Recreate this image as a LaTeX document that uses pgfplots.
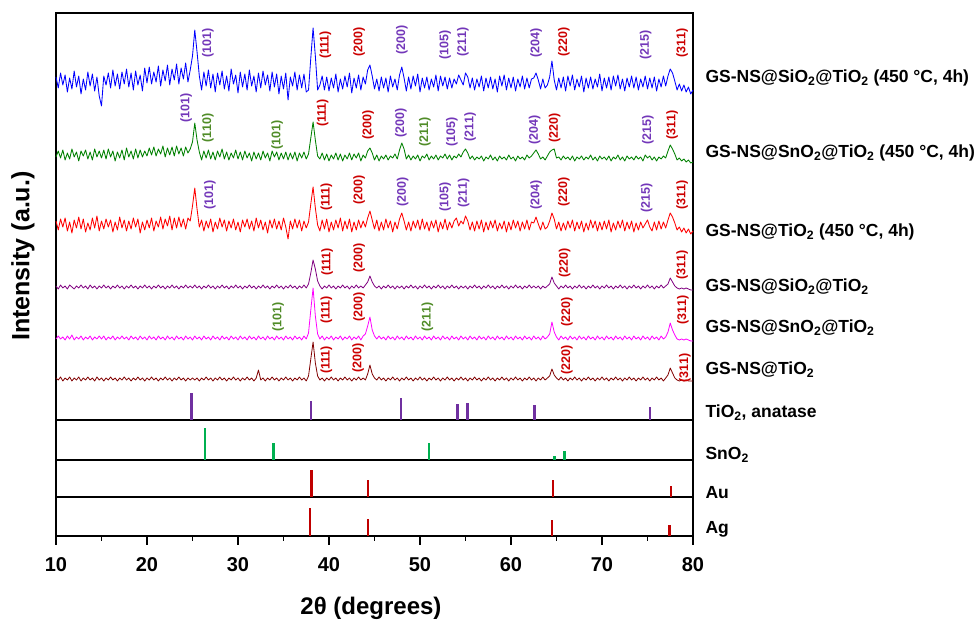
\documentclass[border=0pt]{standalone}
\usepackage{fontspec}
\setmainfont{Liberation Sans}
\usepackage{pgfplots}
\pgfplotsset{compat=1.18}
\usepackage{pgfplotstable}

\definecolor{tblue}{RGB}{0,0,255}
\definecolor{tgreen}{RGB}{0,128,0}
\definecolor{tred}{RGB}{255,0,0}
\definecolor{tpurple}{RGB}{128,0,128}
\definecolor{tmagenta}{RGB}{255,0,255}
\definecolor{tbrown}{RGB}{128,0,0}
\definecolor{lpurple}{RGB}{115,55,185}
\definecolor{lred}{RGB}{204,0,0}
\definecolor{lgreen}{RGB}{80,140,40}
\definecolor{spurple}{RGB}{112,48,160}
\definecolor{sgreen}{RGB}{0,176,80}
\definecolor{sred}{RGB}{192,0,0}

\newcommand{\hklfont}{\bfseries\fontsize{12.5}{14}\selectfont}
\newcommand{\rlab}{\bfseries\fontsize{17.5}{20}\selectfont}

% offsets (px) of each trace from its own baseline
\pgfplotstableread{
x B G R P M N
10.00 5 -2 4 1 -1 1
10.25 -6 4 -5 -2 2 -1
10.50 9 -3 6 2 -1 2
10.75 -3 5 -2 -1 1 -2
11.00 7 -5 7 1 -2 1
11.25 -10 2 -6 -2 2 -1
11.50 4 -4 3 2 -1 2
11.75 -7 6 -8 0 3 -2
12.00 11 -2 5 -2 -2 1
12.25 -5 3 -3 1 1 -1
12.50 6 -6 8 -1 -1 2
12.75 -12 4 -4 2 2 -2
13.00 3 -1 6 -1 -2 1
13.25 -8 5 -7 1 1 -1
13.50 10 -4 2 -2 -1 2
13.75 -4 3 -5 2 2 -1
14.00 8 -5 7 -1 -2 1
14.25 -9 6 -3 1 1 -2
14.50 5 -2 9 -2 -1 2
14.75 -14 4 -6 1 2 -1
15.00 -24 -3 4 -1 -1 1
15.25 6 5 -4 2 2 -2
15.50 -3 -4 6 -1 -2 1
15.75 9 6 -2 1 1 -1
16.00 -6 -2 5 -2 -1 2
16.25 12 4 -7 1 2 -1
16.50 -4 -6 3 -1 -2 1
16.75 8 3 -5 2 1 -2
17.00 -7 -3 8 -1 -1 1
17.25 10 5 -3 1 2 -1
17.50 -2 -5 5 -2 -1 2
17.75 13 7 -6 1 1 -1
18.00 -5 -2 4 -1 -2 1
18.25 9 4 -4 2 2 -2
18.50 -8 -4 7 -1 -1 1
18.75 11 6 -2 1 1 -1
19.00 -3 -3 6 -2 -2 2
19.25 7 5 -8 1 2 -1
19.50 -9 -2 3 -1 -1 1
19.75 14 4 -5 2 1 -2
20.00 -1 -1 5 -1 -2 1
20.25 15 7 -3 1 2 -1
20.50 -2 0 7 -2 -1 2
20.75 10 8 -6 1 1 -1
21.00 0 -1 4 -1 -2 1
21.25 16 6 -2 2 2 -2
21.50 -4 1 8 -1 -1 1
21.75 12 9 -4 1 1 -1
22.00 1 -2 6 -2 -2 2
22.25 17 7 -1 1 2 -1
22.50 -3 0 9 -1 -1 1
22.75 13 8 -5 2 1 -2
23.00 2 -1 7 -1 -2 1
23.25 18 9 -3 1 2 -1
23.50 -2 1 8 -2 -1 2
23.75 14 7 -2 1 1 -1
24.00 3 -1 6 -1 -2 1
24.25 19 8 -4 2 2 -2
24.50 0 2 7 -1 -1 1
24.75 12 6 4 1 1 -1
25.00 26 13 19 -1 -2 1
25.25 52 32 37 2 2 -1
25.50 30 15 16 -1 -1 1
25.75 6 3 -2 1 1 -2
26.00 -8 -5 5 -2 -2 1
26.25 10 4 -6 1 2 -1
26.50 -4 -3 4 -1 -1 2
26.75 12 5 -3 2 1 -1
27.00 -6 -4 6 -1 -2 1
27.25 8 3 -7 1 2 -2
27.50 -10 -5 3 -2 -1 1
27.75 9 4 -4 1 1 -1
28.00 -3 -2 7 -1 -2 2
28.25 11 6 -2 2 2 -1
28.50 -7 -4 5 -1 -1 1
28.75 6 3 -6 1 1 -2
29.00 -9 -5 4 -2 -2 1
29.25 13 2 -3 1 2 -1
29.50 -2 -3 6 -1 -1 2
29.75 7 5 -5 2 1 -1
30.00 -11 -4 3 -1 -2 1
30.25 10 3 -7 1 2 -2
30.50 -5 -5 5 -2 -1 1
30.75 8 4 -2 1 1 -1
31.00 -8 -3 6 -1 -2 2
31.25 12 2 -4 2 2 -1
31.50 -4 -6 4 -1 -1 1
31.75 6 3 -6 1 1 -2
32.00 -10 -4 7 -2 -2 1
32.25 9 2 -3 1 2 9
32.50 -6 -5 5 -1 -1 -1
32.75 11 4 -5 2 1 1
33.00 -3 -3 3 -1 -2 -2
33.25 7 2 -8 1 2 1
33.50 -9 -6 5 -2 -1 -1
33.75 10 4 -3 1 1 2
34.00 -5 -2 6 -1 -2 -1
34.25 8 3 -4 2 2 1
34.50 -12 -5 4 -1 -1 -2
34.75 6 2 -5 1 1 1
35.00 -7 -4 7 -2 -2 -1
35.25 9 3 -2 1 2 2
35.50 -18 -5 -14 -1 -1 -1
35.75 5 2 4 2 1 1
36.00 -4 -4 -4 -1 -2 -2
36.25 10 3 6 1 2 1
36.50 -8 -6 -3 -2 -1 -1
36.75 7 2 5 1 1 2
37.00 -6 -3 -6 -1 -2 -1
37.25 8 3 4 2 2 1
37.50 -10 -4 -3 -1 -1 -2
37.75 -8 1 3 3 5 3
38.00 24 17 21 14 28 20
38.25 54 33 38 27 50 37
38.50 26 15 17 18 22 16
38.75 -8 -1 0 6 4 3
39.00 -3 -4 -6 1 -1 -1
39.25 6 2 5 -2 2 1
39.50 -8 -5 -4 1 -2 -2
39.75 5 1 6 -1 1 1
40.00 -9 -6 -7 2 -1 -1
40.25 4 0 3 -1 2 2
40.50 -6 -4 -5 1 -2 -1
40.75 8 2 5 -2 1 1
41.00 -10 -5 -3 1 -1 -2
41.25 3 1 7 -1 2 1
41.50 -7 -6 -6 2 -2 -1
41.75 6 0 4 -1 1 2
42.00 -5 -4 -4 1 -1 -1
42.25 9 2 6 -2 2 1
42.50 -11 -5 -7 1 -2 -2
42.75 4 1 3 -1 1 1
43.00 -6 -3 -5 2 -1 -1
43.25 7 2 5 -1 2 2
43.50 -8 -6 -3 1 -2 -1
43.75 5 0 4 -1 2 1
44.00 -2 -3 -2 2 4 -1
44.25 12 4 7 5 12 5
44.50 17 7 14 11 21 14
44.75 6 2 5 5 8 5
45.00 -7 -5 -4 1 2 1
45.25 3 0 5 -1 -1 -1
45.50 -9 -6 -6 1 2 2
45.75 5 -1 3 -2 -1 -1
46.00 -6 -4 -5 1 1 1
46.25 4 0 6 -1 -2 -2
46.50 -10 -5 -3 2 2 1
46.75 6 -1 4 -1 -1 -1
47.00 -5 -3 -7 1 1 2
47.25 3 1 3 -2 -2 -1
47.50 -8 -4 -4 1 2 1
47.75 7 5 6 -1 -1 -2
48.00 15 12 12 1 1 1
48.25 4 6 4 -2 -2 -1
48.50 -9 -4 -5 1 2 2
48.75 5 0 3 -1 -1 -1
49.00 -7 -5 -6 2 1 1
49.25 6 -1 4 -1 -2 -2
49.50 -4 -4 -3 1 2 1
49.75 8 0 5 -2 -1 -1
50.00 -10 -6 -5 1 1 2
50.25 4 -1 6 -1 -2 -1
50.50 -6 -3 -4 2 2 1
50.75 5 1 3 -1 -1 -2
51.00 -8 -5 -6 1 1 1
51.25 3 -1 4 -2 -2 -1
51.50 -5 -4 -3 1 2 2
51.75 7 0 5 -1 -1 -1
52.00 -9 -5 -7 2 1 1
52.25 6 -1 3 -1 -2 -2
52.50 -4 -3 -4 1 2 1
52.75 5 1 6 -2 -1 -1
53.00 -7 -4 -5 1 1 2
53.25 4 0 3 -1 -2 -1
53.50 -6 -5 -3 2 2 1
53.75 3 -1 4 -1 -1 -2
54.00 -2 -3 7 1 1 1
54.25 7 1 -1 -2 -2 -1
54.50 2 -2 4 1 2 2
54.75 -3 3 1 -1 -1 -1
55.00 9 6 9 1 1 1
55.25 5 2 4 -2 -2 -2
55.50 -6 -4 -5 1 2 1
55.75 4 -1 3 -1 -1 -1
56.00 -8 -5 -6 2 1 2
56.25 3 -2 4 -1 -2 -1
56.50 -5 -4 -4 1 2 1
56.75 6 -1 5 -2 -1 -2
57.00 -9 -6 -7 1 1 1
57.25 4 -2 3 -1 -2 -1
57.50 -6 -4 -5 2 2 2
57.75 5 0 4 -1 -1 -1
58.00 -7 -5 -3 1 1 1
58.25 3 -2 5 -2 -2 -2
58.50 -10 -6 -6 1 2 1
58.75 6 -1 2 -1 -1 -1
59.00 -4 -4 -4 2 1 2
59.25 7 -2 4 -1 -2 -1
59.50 -8 -5 -7 1 2 1
59.75 4 0 3 -2 -1 -2
60.00 -6 -4 -5 1 1 1
60.25 5 -2 5 -1 -2 -1
60.50 -9 -6 -3 2 2 2
60.75 3 -1 4 -1 -1 -1
61.00 -5 -4 -6 1 1 1
61.25 6 -2 3 -2 -2 -2
61.50 -7 -5 -4 1 2 1
61.75 4 0 5 -1 -1 -1
62.00 -6 -3 -5 2 1 2
62.25 3 -1 3 -1 -2 -1
62.50 4 2 2 1 2 1
62.75 9 5 8 -1 -1 -2
63.00 2 1 1 1 1 1
63.25 -7 -4 -5 -2 -2 -1
63.50 3 -2 3 1 2 2
63.75 -6 -5 -4 -1 -1 -1
64.00 -3 -1 -2 1 1 1
64.25 5 3 4 3 4 3
64.50 21 5 12 10 16 10
64.75 2 6 6 4 6 4
65.00 -8 -3 -4 1 1 1
65.25 4 -2 3 -2 -2 -1
65.50 -6 -5 -6 1 2 2
65.75 5 -1 2 -1 -1 -1
66.00 -9 -4 -5 2 1 1
66.25 6 -2 4 -1 -2 -2
66.50 -4 -5 -3 1 2 1
66.75 7 -1 5 -2 -1 -1
67.00 -8 -6 -6 1 1 2
67.25 3 -2 3 -1 -2 -1
67.50 -5 -4 -4 2 2 1
67.75 6 -1 4 -1 -1 -2
68.00 -10 -5 -7 1 1 1
68.25 4 -2 2 -2 -2 -1
68.50 -6 -4 -5 1 2 2
68.75 5 0 5 -1 -1 -1
69.00 -7 -5 -3 2 1 1
69.25 3 -2 4 -1 -2 -2
69.50 -5 -6 -6 1 2 1
69.75 8 -1 3 -2 -1 -1
70.00 -9 -4 -5 1 1 2
70.25 4 -2 4 -1 -2 -1
70.50 -6 -5 -4 2 2 1
70.75 5 -1 5 -1 -1 -2
71.00 -8 -6 -7 1 1 1
71.25 6 -2 2 -2 -2 -1
71.50 -4 -4 -5 1 2 2
71.75 7 0 4 -1 -1 -1
72.00 -7 -5 -3 2 1 1
72.25 3 -2 5 -1 -2 -2
72.50 -9 -6 -6 1 2 1
72.75 4 -1 3 -2 -1 -1
73.00 -5 -4 -4 1 1 2
73.25 6 -2 4 -1 -2 -1
73.50 -6 -5 -7 2 2 1
73.75 5 -1 2 -1 -1 -2
74.00 -8 -4 -5 1 1 1
74.25 3 -2 3 -2 -2 -1
74.50 -5 -6 -3 1 2 2
74.75 6 0 1 -1 -1 -1
75.00 -7 -3 5 2 1 1
75.25 4 -1 -2 -1 -2 -2
75.50 -6 -5 -6 1 2 1
75.75 5 -2 3 -2 -1 -1
76.00 -9 -6 -5 1 1 2
76.25 3 -2 4 -1 -2 -1
76.50 -5 -4 -4 2 2 1
76.75 6 -1 3 -1 -1 -2
77.00 -4 -3 -3 1 1 1
77.25 6 4 5 3 6 4
77.50 13 10 12 9 15 11
77.75 9 6 8 5 8 6
78.00 1 1 2 1 3 1
78.25 -8 -5 -5 -1 -1 -1
78.50 -2 -3 -2 -2 -2 -2
78.75 -9 -6 -7 -1 -1 -1
79.00 -3 -4 -3 -2 -2 -2
79.25 -10 -7 -8 -1 -1 -1
79.50 -5 -5 -4 -2 -2 -2
79.75 -12 -8 -9 -3 -3 -2
80.00 -8 -7 -6 -3 -3 -2
}\xrd

\begin{document}
\begin{tikzpicture}[x=1pt,y=1pt]
\path[use as bounding box] (-56,-84) rectangle (920,536);
\begin{axis}[
  at={(0pt,0pt)}, anchor=south west,
  scale only axis, width=637pt, height=523pt,
  xmin=10, xmax=80, ymin=0, ymax=523,
  clip=false,
  axis line style={line width=1.2pt},
  xtick={10,20,...,80}, minor xtick={15,25,...,75},
  tick align=outside, xtick pos=bottom, ytick=\empty,
  major tick length=9pt, minor tick length=5pt,
  tick style={black, line width=1.3pt},
  /pgf/number format/assume math mode=true,
  xticklabel style={font=\bfseries\fontsize{20}{24}\selectfont, anchor=center, yshift=-20pt},
  xlabel={2θ (degrees)},
  ylabel={Intensity (a.u.)},
  xlabel style={font=\bfseries\fontsize{24}{28}\selectfont, at={(axis description cs:0.4945,-0.138)}, anchor=center},
  ylabel style={font=\bfseries\fontsize{25}{30}\selectfont, at={(axis description cs:-0.052,0.535)}, anchor=center},
]
% traces
\addplot[tblue, line width=0.85pt, line join=round] table[x=x, y expr=\thisrow{B}+454] {\xrd};
\addplot[tgreen, line width=0.85pt, line join=round] table[x=x, y expr=\thisrow{G}+381] {\xrd};
\addplot[tred, line width=0.85pt, line join=round] table[x=x, y expr=\thisrow{R}+311] {\xrd};
\addplot[tpurple, line width=0.8pt, line join=round] table[x=x, y expr=\thisrow{P}+249] {\xrd};
\addplot[tmagenta, line width=0.8pt, line join=round] table[x=x, y expr=\thisrow{M}+198] {\xrd};
\addplot[tbrown, line width=0.8pt, line join=round] table[x=x, y expr=\thisrow{N}+157] {\xrd};

% reference panels: separators
\addplot[black, line width=2.5pt] coordinates {(10,116) (80,116)};
\addplot[black, line width=2.5pt] coordinates {(10,76) (80,76)};
\addplot[black, line width=2.5pt] coordinates {(10,39) (80,39)};
\addplot[black, line width=2pt] coordinates {(10,0) (80,0)};

% reference sticks
\addplot[ycomb, draw=spurple, line width=2.5pt, yshift=116pt] coordinates {(24.9,27) (38.0,19) (47.9,22) (54.1,16) (55.2,17) (62.6,15) (75.3,13)};
\addplot[ycomb, draw=sgreen, line width=2.5pt, yshift=76pt] coordinates {(26.4,32) (33.9,17) (51.0,17) (64.8,4) (65.9,9)};
\addplot[ycomb, draw=sred, line width=2.5pt, yshift=39pt] coordinates {(38.1,27) (44.3,17) (64.6,17) (77.6,11)};
\addplot[ycomb, draw=sred, line width=2.5pt] coordinates {(37.9,28) (44.3,17) (64.5,16) (77.4,11)};

% hkl labels, blue row
\node[rotate=90, text=lpurple, font=\hklfont] at (axis cs:26.7,493) {(101)};
\node[rotate=90, text=lred, font=\hklfont] at (axis cs:39.6,491) {(111)};
\node[rotate=90, text=lred, font=\hklfont] at (axis cs:43.3,494) {(200)};
\node[rotate=90, text=lpurple, font=\hklfont] at (axis cs:48.0,496) {(200)};
\node[rotate=90, text=lpurple, font=\hklfont] at (axis cs:52.75,491) {(105)};
\node[rotate=90, text=lpurple, font=\hklfont] at (axis cs:54.7,494) {(211)};
\node[rotate=90, text=lpurple, font=\hklfont] at (axis cs:62.75,493) {(204)};
\node[rotate=90, text=lred, font=\hklfont] at (axis cs:65.8,494) {(220)};
\node[rotate=90, text=lpurple, font=\hklfont] at (axis cs:74.8,491) {(215)};
\node[rotate=90, text=lred, font=\hklfont] at (axis cs:78.8,493) {(311)};
% green row
\node[rotate=90, text=lpurple, font=\hklfont] at (axis cs:24.3,428) {(101)};
\node[rotate=90, text=lgreen, font=\hklfont] at (axis cs:26.7,408) {(110)};
\node[rotate=90, text=lgreen, font=\hklfont] at (axis cs:34.3,401) {(101)};
\node[rotate=90, text=lred, font=\hklfont] at (axis cs:39.3,423) {(111)};
\node[rotate=90, text=lred, font=\hklfont] at (axis cs:44.3,411) {(200)};
\node[rotate=90, text=lpurple, font=\hklfont] at (axis cs:47.9,413) {(200)};
\node[rotate=90, text=lgreen, font=\hklfont] at (axis cs:50.55,404) {(211)};
\node[rotate=90, text=lpurple, font=\hklfont] at (axis cs:53.5,404) {(105)};
\node[rotate=90, text=lpurple, font=\hklfont] at (axis cs:55.5,409) {(211)};
\node[rotate=90, text=lpurple, font=\hklfont] at (axis cs:62.6,406) {(204)};
\node[rotate=90, text=lred, font=\hklfont] at (axis cs:64.8,408) {(220)};
\node[rotate=90, text=lpurple, font=\hklfont] at (axis cs:75.05,406) {(215)};
\node[rotate=90, text=lred, font=\hklfont] at (axis cs:77.7,411) {(311)};
% red row
\node[rotate=90, text=lpurple, font=\hklfont] at (axis cs:26.9,341) {(101)};
\node[rotate=90, text=lred, font=\hklfont] at (axis cs:39.7,339) {(111)};
\node[rotate=90, text=lred, font=\hklfont] at (axis cs:43.3,346) {(200)};
\node[rotate=90, text=lpurple, font=\hklfont] at (axis cs:48.1,344) {(200)};
\node[rotate=90, text=lpurple, font=\hklfont] at (axis cs:52.75,339) {(105)};
\node[rotate=90, text=lpurple, font=\hklfont] at (axis cs:54.8,343) {(211)};
\node[rotate=90, text=lpurple, font=\hklfont] at (axis cs:62.75,341) {(204)};
\node[rotate=90, text=lred, font=\hklfont] at (axis cs:65.8,344) {(220)};
\node[rotate=90, text=lpurple, font=\hklfont] at (axis cs:74.9,338) {(215)};
\node[rotate=90, text=lred, font=\hklfont] at (axis cs:78.8,341) {(311)};
% purple row
\node[rotate=90, text=lred, font=\hklfont] at (axis cs:39.8,274) {(111)};
\node[rotate=90, text=lred, font=\hklfont] at (axis cs:43.3,278) {(200)};
\node[rotate=90, text=lred, font=\hklfont] at (axis cs:65.9,273) {(220)};
\node[rotate=90, text=lred, font=\hklfont] at (axis cs:78.8,271) {(311)};
% magenta row
\node[rotate=90, text=lgreen, font=\hklfont] at (axis cs:34.4,219) {(101)};
\node[rotate=90, text=lred, font=\hklfont] at (axis cs:39.7,226) {(111)};
\node[rotate=90, text=lred, font=\hklfont] at (axis cs:43.3,229) {(200)};
\node[rotate=90, text=lgreen, font=\hklfont] at (axis cs:50.8,219) {(211)};
\node[rotate=90, text=lred, font=\hklfont] at (axis cs:66.15,224) {(220)};
\node[rotate=90, text=lred, font=\hklfont] at (axis cs:78.9,226) {(311)};
% brown row
\node[rotate=90, text=lred, font=\hklfont] at (axis cs:39.7,176) {(111)};
\node[rotate=90, text=lred, font=\hklfont] at (axis cs:43.2,178) {(200)};
\node[rotate=90, text=lred, font=\hklfont] at (axis cs:66.15,176) {(220)};
\node[rotate=90, text=lred, font=\hklfont] at (axis cs:79.1,168) {(311)};
\end{axis}

% sample and reference labels
\node[anchor=base west, font=\rlab] at (646,453) {GS-NS@SiO\textsubscript{2}@TiO\textsubscript{2} (450 °C, 4h)};
\node[anchor=base west, font=\rlab] at (646,378) {GS-NS@SnO\textsubscript{2}@TiO\textsubscript{2} (450 °C, 4h)};
\node[anchor=base west, font=\rlab] at (646,299) {GS-NS@TiO\textsubscript{2} (450 °C, 4h)};
\node[anchor=base west, font=\rlab] at (646,244) {GS-NS@SiO\textsubscript{2}@TiO\textsubscript{2}};
\node[anchor=base west, font=\rlab] at (646,203) {GS-NS@SnO\textsubscript{2}@TiO\textsubscript{2}};
\node[anchor=base west, font=\rlab] at (646,161) {GS-NS@TiO\textsubscript{2}};
\node[anchor=base west, font=\rlab] at (646,118) {TiO\textsubscript{2}, anatase};
\node[anchor=base west, font=\rlab] at (646,76) {SnO\textsubscript{2}};
\node[anchor=base west, font=\rlab] at (646,37) {Au};
\node[anchor=base west, font=\rlab] at (646,2) {Ag};
\end{tikzpicture}
\end{document}
